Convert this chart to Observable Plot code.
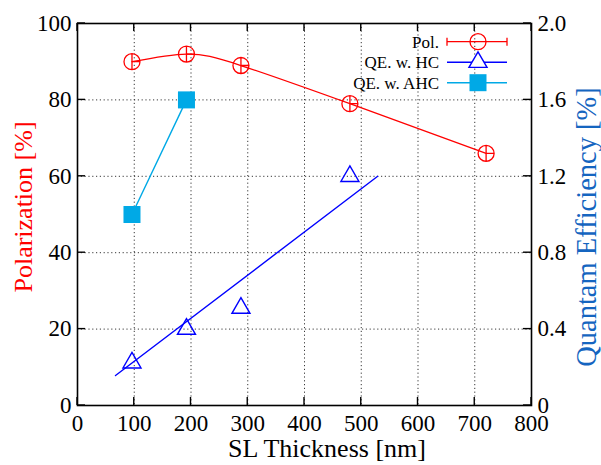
<!DOCTYPE html>
<html><head><meta charset="utf-8">
<script src="https://cdn.jsdelivr.net/npm/d3@7"></script>
<script src="https://cdn.jsdelivr.net/npm/@observablehq/plot@0.6"></script>
<style>
body{margin:0;background:#fff}
#chart{position:relative;width:601px;height:465px}
#chart svg{font-family:"Liberation Serif","Times New Roman",serif}
</style>
</head><body><div id="chart"></div>
<script>
// ---- data ----
const polThickness = [96, 192, 288, 480, 720];
const polarization = [90, 92, 89, 79, 66];
const hcThickness = [96, 192, 288, 480];
const qeHC = [0.224, 0.40, 0.51, 1.20];
const ahcThickness = [96, 192];
const qeAHC = [1.0, 1.6];
const fitThickness = [67, 529];
const fitQE = [0.157, 1.20];
const xTicks = [0, 100, 200, 300, 400, 500, 600, 700, 800];
const yTicks = [0, 20, 40, 60, 80, 100];
const qeTicks = [0, 0.4, 0.8, 1.2, 1.6, 2.0];
const gridX = [100, 200, 300, 400, 500, 600, 700];
const gridY = [20, 40, 60, 80];
const legendLabels = ["Pol.", "QE. w. HC", "QE. w. AHC"];

const QE_MAX = 2.0, PCT_MAX = 100;
const toPct = q => q * PCT_MAX / QE_MAX;

const polData = polThickness.map((x, i) => ({x, y: polarization[i]}));
const hcData = hcThickness.map((x, i) => ({x, qe: qeHC[i]}));
const ahcData = ahcThickness.map((x, i) => ({x, qe: qeAHC[i]}));
const fitData = fitThickness.map((x, i) => ({x, qe: fitQE[i]}));

const RED = "#ff0000", BLUE = "#0000ff", CYAN = "#00a9e6", QECOL = "#1565c0";

// circle with crosshair (error bars)
const circleCross = {
  draw(ctx, size) {
    const r = Math.sqrt(size / Math.PI);
    ctx.moveTo(r, 0); ctx.arc(0, 0, r, 0, 2 * Math.PI);
    ctx.moveTo(0, -r); ctx.lineTo(0, r);
    ctx.moveTo(0, 0); ctx.lineTo(r, 0);
  }
};

const plot = Plot.plot({
  width: 601, height: 465,
  marginLeft: 77, marginRight: 70, marginTop: 23, marginBottom: 60,
  style: {fontFamily: "Liberation Serif, serif", fontSize: "23px", color: "#000"},
  x: {domain: [0, 800], axis: null},
  y: {domain: [0, 100], axis: null},
  marks: [
    Plot.gridX(gridX, {stroke: "#222", strokeOpacity: 0.9, strokeDasharray: "1.2,2.6", strokeWidth: 1}),
    Plot.gridY(gridY, {stroke: "#222", strokeOpacity: 0.9, strokeDasharray: "1.2,2.6", strokeWidth: 1}),
    // labels
    Plot.axisX(xTicks, {anchor: "bottom", tickSize: 0, tickPadding: 9, fontSize: 23, label: null}),
    Plot.axisY(yTicks, {anchor: "left", tickSize: 0, tickPadding: 6, fontSize: 23, label: null}),
    Plot.axisY(qeTicks.map(toPct), {anchor: "right", tickSize: 0, tickPadding: 6, fontSize: 23, label: null,
      tickFormat: d => d === 0 ? "0" : (d * QE_MAX / PCT_MAX).toFixed(1)}),
    Plot.frame({stroke: "#000", strokeWidth: 1.6}),
    // fit line for HC
    Plot.line(fitData, {x: "x", y: d => toPct(d.qe), stroke: BLUE, strokeWidth: 1.4}),
    // AHC line
    Plot.line(ahcData, {x: "x", y: d => toPct(d.qe), stroke: CYAN, strokeWidth: 1.4}),
    // polarization curve
    Plot.line(polData, {x: "x", y: "y", curve: "natural", stroke: RED, strokeWidth: 1.3}),
    Plot.dot(polData, {x: "x", y: "y", r: 8, symbol: circleCross, stroke: RED, fill: "none", strokeWidth: 1.3}),
    Plot.dot(hcData, {x: "x", y: d => toPct(d.qe), r: 6.7, symbol: "triangle", stroke: BLUE, fill: "none", strokeWidth: 1.4}),
    Plot.dot(ahcData, {x: "x", y: d => toPct(d.qe), r: 9.6, symbol: "square", fill: CYAN, stroke: "none"})
  ]
});

const root = document.getElementById("chart");
root.appendChild(plot);

const svg = d3.select(plot);
const sx = plot.scale("x"), sy = plot.scale("y");
const [x0, x1] = [sx.apply(0), sx.apply(800)];
const [y0, y1] = [sy.apply(0), sy.apply(100)];
const TL = 8;
// inward tick marks on all four sides
const tg = svg.append("g").attr("stroke", "#000").attr("stroke-width", 1.4);
xTicks.forEach(v => {
  const x = sx.apply(v);
  tg.append("line").attr("x1", x).attr("x2", x).attr("y1", y0).attr("y2", y0 - TL);
  tg.append("line").attr("x1", x).attr("x2", x).attr("y1", y1).attr("y2", y1 + TL);
});
yTicks.forEach(v => {
  const y = sy.apply(v);
  tg.append("line").attr("x1", x0).attr("x2", x0 + TL).attr("y1", y).attr("y2", y);
  tg.append("line").attr("x1", x1).attr("x2", x1 - TL).attr("y1", y).attr("y2", y);
});

// axis titles
svg.append("text").attr("x", 327).attr("y", 457).attr("text-anchor", "middle")
  .attr("font-size", 26).attr("fill", "#000").text("SL Thickness [nm]");
svg.append("text").attr("transform", "translate(32,207) rotate(-90)").attr("text-anchor", "middle")
  .attr("font-size", 26).attr("fill", RED).text("Polarization [%]");
svg.append("text").attr("transform", "translate(596,227) rotate(-90)").attr("text-anchor", "middle")
  .attr("font-size", 28.5).attr("fill", QECOL).text("Quantam Efficiency [%]");

// legend
const leg = svg.append("g").attr("font-size", 17);
const rows = [41.7, 62.2, 82.7];
const lx1 = 447, lx2 = 507, lm = 478;
legendLabels.forEach((lab, i) => {
  leg.append("text").attr("x", 439).attr("y", rows[i]).attr("dy", "0.35em")
    .attr("text-anchor", "end").attr("fill", "#000").text(lab);
});
leg.append("line").attr("x1", lx1).attr("x2", lx2).attr("y1", rows[0]).attr("y2", rows[0]).attr("stroke", RED).attr("stroke-width", 1.3);
[lx1, lx2].forEach(x => leg.append("line").attr("x1", x).attr("x2", x).attr("y1", rows[0] - 4).attr("y2", rows[0] + 4).attr("stroke", RED).attr("stroke-width", 1.3));
leg.append("circle").attr("cx", lm).attr("cy", rows[0]).attr("r", 8).attr("fill", "none").attr("stroke", RED).attr("stroke-width", 1.3);
leg.append("line").attr("x1", lx1).attr("x2", lx2).attr("y1", rows[1]).attr("y2", rows[1]).attr("stroke", BLUE).attr("stroke-width", 1.4);
leg.append("path").attr("transform", `translate(${lm},${rows[1]})`)
  .attr("d", d3.symbol(d3.symbolTriangle, Math.PI * 6.7 * 6.7)()).attr("fill", "#fff").attr("stroke", BLUE).attr("stroke-width", 1.4);
leg.append("line").attr("x1", lx1).attr("x2", lx2).attr("y1", rows[2]).attr("y2", rows[2]).attr("stroke", CYAN).attr("stroke-width", 1.4);
leg.append("rect").attr("x", lm - 8.5).attr("y", rows[2] - 8.5).attr("width", 17).attr("height", 17).attr("fill", CYAN);
</script>
</body></html>
